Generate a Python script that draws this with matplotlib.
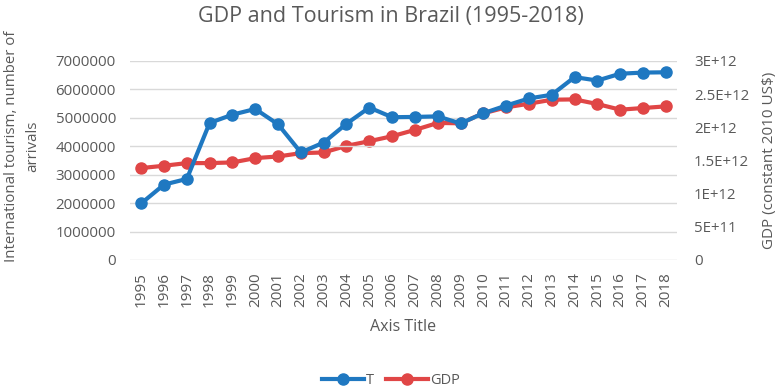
import numpy as np
import matplotlib
matplotlib.use("Agg")
import matplotlib.pyplot as plt
from matplotlib.ticker import FuncFormatter

plt.rcParams['font.family'] = ['Open Sans', 'DejaVu Sans']

years = list(range(1995, 2019))
tourism = [1.99e6, 2.65e6, 2.85e6, 4.82e6, 5.11e6, 5.31e6, 4.77e6, 3.78e6,
           4.13e6, 4.79e6, 5.36e6, 5.02e6, 5.03e6, 5.05e6, 4.80e6, 5.16e6,
           5.43e6, 5.68e6, 5.81e6, 6.43e6, 6.31e6, 6.55e6, 6.59e6, 6.60e6]
gdp = [1.385e12, 1.42e12, 1.46e12, 1.46e12, 1.47e12, 1.535e12, 1.56e12, 1.61e12,
       1.62e12, 1.72e12, 1.79e12, 1.865e12, 1.96e12, 2.065e12, 2.06e12, 2.21e12,
       2.30e12, 2.355e12, 2.415e12, 2.42e12, 2.35e12, 2.265e12, 2.29e12, 2.315e12]
left_ticks = [0, 1e6, 2e6, 3e6, 4e6, 5e6, 6e6, 7e6]
right_ticks = [0, 5e11, 1e12, 1.5e12, 2e12, 2.5e12, 3e12]
right_labels = ['0', '5E+11', '1E+12', '1.5E+12', '2E+12', '2.5E+12', '3E+12']

blue = '#1f78c1'
red = '#e04646'
txt = '#595959'

fig = plt.figure(figsize=(7.82, 3.88), dpi=100)
ax = fig.add_axes([0.166, 0.330, 0.700, 0.513])
ax2 = ax.twinx()

x = np.arange(len(years))
l1, = ax.plot(x, tourism, color=blue, lw=3, marker='o', ms=8, label='T', zorder=3)
l2, = ax2.plot(x, gdp, color=red, lw=3, marker='o', ms=8, label='GDP', zorder=3)

ax.set_xlim(-0.5, len(years) - 0.5)
ax.set_ylim(0, 7e6)
ax2.set_ylim(0, 3e12)
ax.set_yticks(left_ticks)
ax.yaxis.set_major_formatter(FuncFormatter(lambda v, p: '%d' % v))
ax2.set_yticks(right_ticks)
ax2.set_yticklabels(right_labels)
ax.set_xticks(x)
ax.set_xticklabels([str(y) for y in years], rotation=90)

ax.grid(axis='y', color='#d9d9d9', lw=1)
ax.set_axisbelow(True)
for a in (ax, ax2):
    for s in a.spines.values():
        s.set_visible(False)
    a.tick_params(length=0, colors=txt, labelsize=10.8)
ax.tick_params(axis='y', pad=10)
ax2.tick_params(axis='y', pad=12)
ax.tick_params(axis='x', pad=9, labelsize=11)

# put the tourism line above the gdp axis
ax.set_zorder(ax2.get_zorder() + 1)
ax.patch.set_visible(False)

fig.suptitle('GDP and Tourism in Brazil (1995-2018)', x=0.5, y=0.985,
             fontsize=15.5, color=txt)
ax.set_ylabel('International tourism, number of\narrivals', fontsize=10.8,
              color=txt, linespacing=1.6)
ax.yaxis.set_label_coords(-0.163, 0.57)
ax2.set_ylabel('GDP (constant 2010 US$)', fontsize=11, color=txt, labelpad=9)
ax.set_xlabel('Axis Title', fontsize=11.5, color=txt, labelpad=8)

fig.legend([l1, l2], ['T', 'GDP'], loc='center', bbox_to_anchor=(0.5, 0.02),
           ncol=2, frameon=False, fontsize=10.5, labelcolor=txt,
           handlelength=2.9, handletextpad=0.15, columnspacing=0.8)

fig.savefig('out.png', dpi=100)
